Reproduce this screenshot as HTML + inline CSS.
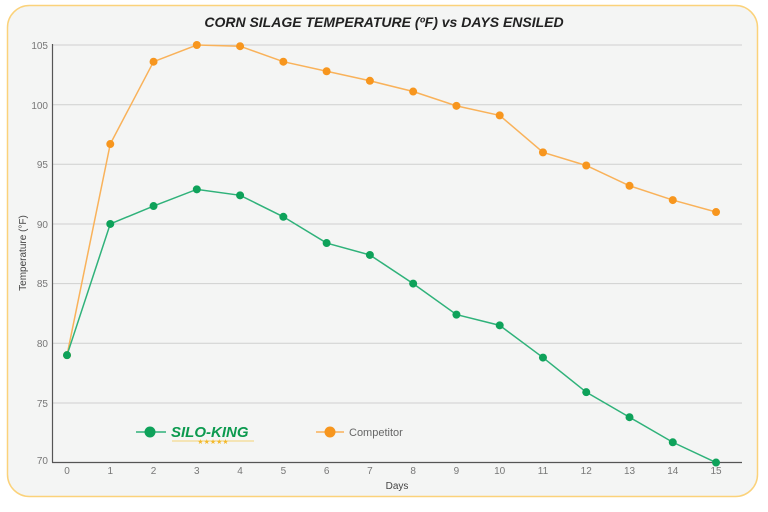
<!DOCTYPE html>
<html><head><meta charset="utf-8"><style>
body{margin:0;background:#fff;width:768px;height:507px;overflow:hidden;font-family:"Liberation Sans",sans-serif}
</style></head><body>
<svg width="768" height="507" viewBox="0 0 768 507" xmlns="http://www.w3.org/2000/svg" font-family="Liberation Sans, sans-serif">
<rect x="7.5" y="5.5" width="750" height="491" rx="22" fill="#f4f5f4" stroke="#fbd27a" stroke-width="1.5"/>
<text x="384" y="27" text-anchor="middle" font-size="14" font-weight="bold" font-style="italic" fill="#222">CORN SILAGE TEMPERATURE (ºF) vs DAYS ENSILED</text>
<g stroke="#cfd0cf" stroke-width="1">
<line x1="52" y1="45" x2="742" y2="45"/><line x1="52" y1="104.7" x2="742" y2="104.7"/><line x1="52" y1="164.3" x2="742" y2="164.3"/><line x1="52" y1="224" x2="742" y2="224"/><line x1="52" y1="283.6" x2="742" y2="283.6"/><line x1="52" y1="343.3" x2="742" y2="343.3"/><line x1="52" y1="403" x2="742" y2="403"/>
</g>
<line x1="52.5" y1="44" x2="52.5" y2="462.5" stroke="#555" stroke-width="1.2"/>
<line x1="52" y1="462.5" x2="742" y2="462.5" stroke="#555" stroke-width="1.2"/>
<g font-size="10" fill="#777" text-anchor="end">
<text x="48" y="49">105</text><text x="48" y="109">100</text><text x="48" y="168">95</text><text x="48" y="228">90</text><text x="48" y="287">85</text><text x="48" y="347">80</text><text x="48" y="407">75</text><text x="48" y="464">70</text>
</g>
<g font-size="10" fill="#777" text-anchor="middle" id="xl"></g>
<text x="397" y="489" font-size="10" fill="#444" text-anchor="middle">Days</text>
<text transform="translate(26,253) rotate(-90)" font-size="10" fill="#444" text-anchor="middle">Temperature (°F)</text>
<g id="series"></g>
<line x1="136" y1="432" x2="166" y2="432" stroke="#2fb27a" stroke-width="1.5"/>
<circle cx="150" cy="432" r="5.5" fill="#0ea25a"/>
<text x="171" y="437" font-size="15" font-weight="bold" font-style="italic" fill="#0c9a4f">SILO-KING</text>
<line x1="172" y1="441" x2="254" y2="441" stroke="#f3c94c" stroke-width="0.8"/>
<text x="213" y="444" font-size="7" fill="#f3b92c" text-anchor="middle">★★★★★</text>
<line x1="316" y1="432" x2="344" y2="432" stroke="#f9b25a" stroke-width="1.5"/>
<circle cx="330" cy="432" r="5.5" fill="#f7961e"/>
<text x="349" y="436" font-size="11" fill="#666">Competitor</text>
</svg>
<script>
var c=[79,96.7,103.6,105,104.9,103.6,102.8,102,101.1,99.9,99.1,96,94.9,93.2,92,91];
var s=[79,90,91.5,92.9,92.4,90.6,88.4,87.4,85,82.4,81.5,78.8,75.9,73.8,71.7,70];
function X(i){return 67+i*43.27}function Y(v){return 45+(105-v)*11.93}
var ns="http://www.w3.org/2000/svg",g=document.getElementById('series'),xl=document.getElementById('xl');
for(var i=0;i<16;i++){var t=document.createElementNS(ns,'text');t.setAttribute('x',X(i));t.setAttribute('y',474);t.textContent=i;xl.appendChild(t);}
function draw(d,lc,pc){var p=d.map(function(v,i){return X(i)+','+Y(v)}).join(' ');
var l=document.createElementNS(ns,'polyline');l.setAttribute('points',p);l.setAttribute('fill','none');l.setAttribute('stroke',lc);l.setAttribute('stroke-width','1.5');g.appendChild(l);
d.forEach(function(v,i){var k=document.createElementNS(ns,'circle');k.setAttribute('cx',X(i));k.setAttribute('cy',Y(v));k.setAttribute('r',4);k.setAttribute('fill',pc);g.appendChild(k);});}
draw(c,'#f9b25a','#f7961e');draw(s,'#2fb27a','#0ea25a');
</script>
</body></html>
